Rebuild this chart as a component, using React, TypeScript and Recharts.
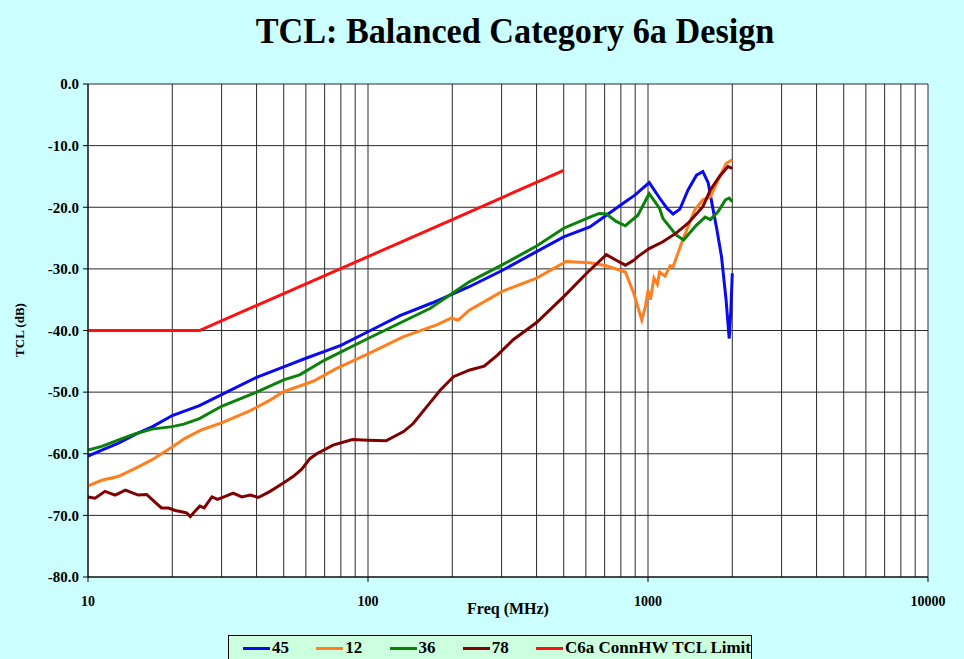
import React from 'react';
import { LineChart, Line, XAxis, YAxis, CartesianGrid } from 'recharts';

// TCL (dB) vs frequency (MHz)
const pair45 = [
  { f: 10, v: -60.4 }, { f: 11.2, v: -59.4 }, { f: 12.8, v: -58.3 }, { f: 15, v: -56.7 },
  { f: 17, v: -55.6 }, { f: 20, v: -53.8 }, { f: 25, v: -52.2 }, { f: 30, v: -50.4 },
  { f: 40, v: -47.6 }, { f: 50, v: -45.9 }, { f: 60, v: -44.5 }, { f: 70, v: -43.4 },
  { f: 80, v: -42.4 }, { f: 100, v: -40.2 }, { f: 130, v: -37.6 }, { f: 170, v: -35.5 },
  { f: 230, v: -32.9 }, { f: 300, v: -30.3 }, { f: 400, v: -27.2 }, { f: 500, v: -24.8 },
  { f: 620, v: -23.2 }, { f: 710, v: -21.3 }, { f: 830, v: -19.1 }, { f: 900, v: -18.0 },
  { f: 1010, v: -16.0 }, { f: 1100, v: -18.5 }, { f: 1170, v: -20.2 }, { f: 1230, v: -21.1 },
  { f: 1300, v: -20.3 }, { f: 1390, v: -17.2 }, { f: 1490, v: -14.8 }, { f: 1570, v: -14.2 },
  { f: 1640, v: -16.0 }, { f: 1700, v: -19.9 }, { f: 1760, v: -23.5 }, { f: 1830, v: -28.0 },
  { f: 1900, v: -35.0 }, { f: 1950, v: -41.3 }, { f: 1975, v: -37.0 }, { f: 2000, v: -30.7 },
];

const pair12 = [
  { f: 10, v: -65.2 }, { f: 11.2, v: -64.3 }, { f: 12.8, v: -63.7 }, { f: 14.7, v: -62.4 },
  { f: 16.9, v: -61.0 }, { f: 18.3, v: -60.0 }, { f: 20, v: -58.9 }, { f: 22.2, v: -57.5 },
  { f: 25.5, v: -56.1 }, { f: 30, v: -55.0 }, { f: 38, v: -53.0 }, { f: 44.7, v: -51.3 },
  { f: 50, v: -49.9 }, { f: 58.8, v: -48.8 }, { f: 64, v: -48.2 }, { f: 77, v: -46.2 },
  { f: 100, v: -43.8 }, { f: 134, v: -41.0 }, { f: 176, v: -39.1 }, { f: 198, v: -38.0 },
  { f: 210, v: -38.3 }, { f: 230, v: -36.7 }, { f: 280, v: -34.5 }, { f: 300, v: -33.7 },
  { f: 400, v: -31.5 }, { f: 510, v: -28.8 }, { f: 620, v: -29.0 }, { f: 710, v: -29.5 },
  { f: 830, v: -30.5 }, { f: 890, v: -34.0 }, { f: 950, v: -38.3 }, { f: 980, v: -36.0 },
  { f: 1000, v: -33.5 }, { f: 1020, v: -35.0 }, { f: 1050, v: -31.5 }, { f: 1080, v: -32.5 },
  { f: 1100, v: -30.5 }, { f: 1150, v: -31.2 }, { f: 1200, v: -29.5 }, { f: 1230, v: -29.6 },
  { f: 1330, v: -25.3 }, { f: 1470, v: -20.4 }, { f: 1570, v: -18.8 }, { f: 1670, v: -18.3 },
  { f: 1780, v: -15.6 }, { f: 1900, v: -12.9 }, { f: 2000, v: -12.3 },
];

const pair36 = [
  { f: 10, v: -59.4 }, { f: 11.2, v: -58.8 }, { f: 12.8, v: -57.8 }, { f: 14.7, v: -56.8 },
  { f: 16.9, v: -56.0 }, { f: 20, v: -55.6 }, { f: 22, v: -55.2 }, { f: 25, v: -54.3 },
  { f: 30, v: -52.3 }, { f: 40, v: -50.0 }, { f: 50, v: -48.0 }, { f: 57, v: -47.2 },
  { f: 70, v: -44.8 }, { f: 100, v: -41.3 }, { f: 167, v: -36.4 }, { f: 230, v: -32.1 },
  { f: 300, v: -29.4 }, { f: 400, v: -26.3 }, { f: 500, v: -23.4 }, { f: 620, v: -21.6 },
  { f: 670, v: -21.0 }, { f: 710, v: -21.1 }, { f: 770, v: -22.3 }, { f: 830, v: -23.0 },
  { f: 920, v: -21.3 }, { f: 1010, v: -17.8 }, { f: 1100, v: -20.2 }, { f: 1130, v: -21.8 },
  { f: 1260, v: -24.5 }, { f: 1340, v: -25.3 }, { f: 1490, v: -22.9 }, { f: 1600, v: -21.6 },
  { f: 1670, v: -22.0 }, { f: 1780, v: -20.7 }, { f: 1890, v: -18.8 }, { f: 1950, v: -18.5 },
  { f: 2000, v: -19.1 },
];

const pair78 = [
  { f: 10, v: -67.0 }, { f: 10.6, v: -67.2 }, { f: 11.5, v: -66.1 }, { f: 12.5, v: -66.7 },
  { f: 13.6, v: -65.9 }, { f: 15.1, v: -66.7 }, { f: 16.2, v: -66.6 }, { f: 17.3, v: -67.8 },
  { f: 18.3, v: -68.8 }, { f: 19.4, v: -68.8 }, { f: 20.5, v: -69.2 }, { f: 21.6, v: -69.4 },
  { f: 22.5, v: -69.6 }, { f: 23.2, v: -70.2 }, { f: 24, v: -69.4 }, { f: 25.1, v: -68.5 },
  { f: 26, v: -68.8 }, { f: 27.7, v: -67.0 }, { f: 29, v: -67.4 }, { f: 30.9, v: -66.9 },
  { f: 33, v: -66.4 }, { f: 35.4, v: -67.0 }, { f: 38, v: -66.7 }, { f: 40.6, v: -67.1 },
  { f: 44.7, v: -66.1 }, { f: 49.7, v: -64.8 }, { f: 54, v: -63.7 }, { f: 58, v: -62.5 },
  { f: 62, v: -60.8 }, { f: 65.6, v: -60.0 }, { f: 75, v: -58.6 }, { f: 88, v: -57.7 },
  { f: 100, v: -57.8 }, { f: 116, v: -57.9 }, { f: 134, v: -56.4 }, { f: 145, v: -55.1 },
  { f: 162, v: -52.4 }, { f: 181, v: -49.7 }, { f: 202, v: -47.5 }, { f: 231, v: -46.4 },
  { f: 260, v: -45.8 }, { f: 290, v: -44.0 }, { f: 330, v: -41.5 }, { f: 400, v: -38.7 },
  { f: 500, v: -34.5 }, { f: 610, v: -30.5 }, { f: 710, v: -27.7 }, { f: 770, v: -28.6 },
  { f: 830, v: -29.4 }, { f: 890, v: -28.6 }, { f: 920, v: -28.0 }, { f: 1010, v: -26.7 },
  { f: 1130, v: -25.6 }, { f: 1260, v: -24.2 }, { f: 1390, v: -22.6 }, { f: 1570, v: -19.9 },
  { f: 1670, v: -17.2 }, { f: 1800, v: -15.0 }, { f: 1930, v: -13.4 }, { f: 2000, v: -13.7 },
];

const limitC6a = [
  { f: 10, v: -40 }, { f: 25, v: -40 }, { f: 50, v: -34 }, { f: 100, v: -28 },
  { f: 200, v: -22 }, { f: 500, v: -14 },
];

const decades = [10, 100, 1000, 10000];
const freqTicks = [
  10, 20, 30, 40, 50, 60, 70, 80, 90,
  100, 200, 300, 400, 500, 600, 700, 800, 900,
  1000, 2000, 3000, 4000, 5000, 6000, 7000, 8000, 9000, 10000,
];
const dbTicks = [-80, -70, -60, -50, -40, -30, -20, -10, 0];

const series = [
  { name: '45', data: pair45, color: '#0a0af0' },
  { name: '12', data: pair12, color: '#ff7f1e' },
  { name: '36', data: pair36, color: '#0a820a' },
  { name: '78', data: pair78, color: '#800000' },
  { name: 'C6a ConnHW TCL Limit', data: limitC6a, color: '#ff1010' },
];

const serif = '"Liberation Serif", "Times New Roman", serif';

const FreqTick = (props: any) => {
  const { x, y, payload } = props;
  if (!decades.includes(payload.value)) return null;
  return (
    <g>
      <line x1={x} x2={x} y1={y - 8} y2={y - 3} stroke="#000" />
      <text x={x} y={y + 21} textAnchor="middle" fontFamily={serif} fontWeight="bold" fontSize={14} fill="#000">
        {payload.value}
      </text>
    </g>
  );
};

export default function App() {
  return (
    <div style={{ position: 'relative', width: 964, height: 659, background: '#ccffff', overflow: 'hidden' }}>
      <style>{`body{margin:0}`}</style>
      <div
        style={{
          position: 'absolute', left: 0, width: 1030, top: 10, textAlign: 'center',
          fontFamily: serif, fontWeight: 'bold', fontSize: 36, color: '#000',
          transform: 'scaleX(0.95)', transformOrigin: '515px 0',
        }}
      >
        TCL: Balanced Category 6a Design
      </div>
      <LineChart width={964} height={659} margin={{ top: 84, right: 36, left: 0, bottom: 0 }}>
        <CartesianGrid stroke="#2a2a2a" strokeWidth={1} fill="#ffffff" />
        <XAxis
          dataKey="f"
          type="number"
          scale="log"
          domain={[10, 10000]}
          ticks={freqTicks}
          interval={0}
          allowDataOverflow
          height={82}
          stroke="#000"
          tickLine={false}
          tick={<FreqTick />}
          label={{
            content: () => (
              <text x={508} y={614} textAnchor="middle" fontFamily={serif} fontWeight="bold" fontSize={16}>
                Freq (MHz)
              </text>
            ),
          }}
        />
        <YAxis
          type="number"
          domain={[-80, 0]}
          ticks={dbTicks}
          interval={0}
          width={88}
          stroke="#000"
          tickSize={5}
          tickMargin={4}
          tickFormatter={(v: number) => v.toFixed(1)}
          tick={{ fontFamily: serif, fontWeight: 'bold', fontSize: 15, fill: '#000' }}
          label={{
            content: () => (
              <text x={24} y={330} transform="rotate(-90 24 330)" textAnchor="middle" fontFamily={serif} fontWeight="bold" fontSize={13}>
                TCL (dB)
              </text>
            ),
          }}
        />
        {series.map((s) => (
          <Line
            key={s.name}
            data={s.data}
            dataKey="v"
            name={s.name}
            type="linear"
            stroke={s.color}
            strokeWidth={3}
            dot={false}
            isAnimationActive={false}
          />
        ))}
      </LineChart>
      <div
        style={{
          position: 'absolute', left: 228, top: 635, width: 524, height: 34,
          border: '1px solid #000', background: '#ccffdd', boxSizing: 'border-box',
          display: 'flex', alignItems: 'flex-start', paddingTop: 2, paddingLeft: 14,
          fontFamily: serif, fontWeight: 'bold', fontSize: 17, whiteSpace: 'nowrap',
        }}
      >
        {series.map((s) => (
          <div key={s.name} style={{ display: 'flex', alignItems: 'center', width: s.name.length > 2 ? 'auto' : 73.3 }}>
            <span style={{ display: 'inline-block', width: 27, height: 3, background: s.color, marginRight: 2 }} />
            <span>{s.name}</span>
          </div>
        ))}
      </div>
    </div>
  );
}
